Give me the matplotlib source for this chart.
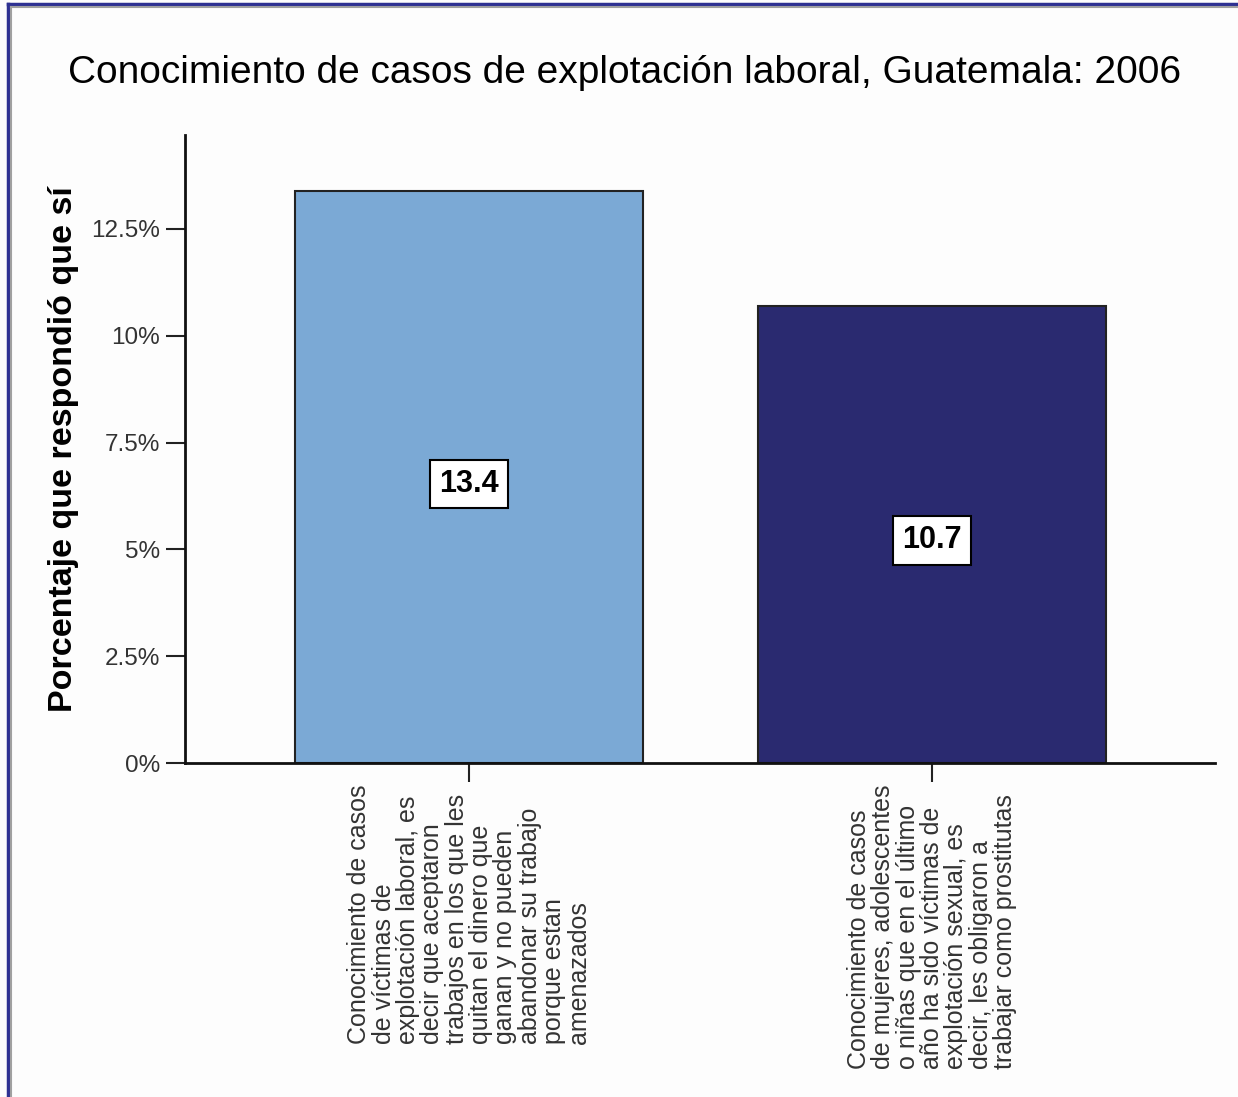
import numpy as np
import matplotlib
matplotlib.use("Agg")
import matplotlib.pyplot as plt
from matplotlib.lines import Line2D
from matplotlib.ticker import FuncFormatter

plt.rcParams["font.family"] = ["Liberation Sans", "DejaVu Sans"]

# data
categories = [
    "Conocimiento de casos\nde víctimas de\nexplotación laboral, es\ndecir que aceptaron\n"
    "trabajos en los que les\nquitan el dinero que\nganan y no pueden\n"
    "abandonar su trabajo\nporque estan\namenazados",
    "Conocimiento de casos\nde mujeres, adolescentes\no niñas que en el último\n"
    "año ha sido víctimas de\nexplotación sexual, es\ndecir, les obligaron a\n"
    "trabajar como prostitutas",
]
values = [13.4, 10.7]
bar_colors = ["#7BA9D5", "#2A2A70"]
y_ticks = [0, 2.5, 5, 7.5, 10, 12.5]

title = "Conocimiento de casos de explotación laboral, Guatemala: 2006"
y_label = "Porcentaje que respondió que sí"

W, H = 1238, 1097
fig = plt.figure(figsize=(W / 100, H / 100), dpi=100, facecolor="#FDFDFD")
ax = fig.add_axes([185 / W, 1 - 763 / H, (1215 - 185) / W, (763 - 135) / H])
ax.set_facecolor("#FDFDFD")

x = np.arange(len(values))
ax.bar(x, values, width=0.752, color=bar_colors, edgecolor="#222222", linewidth=1.5, zorder=2)

for xi, v in zip(x, values):
    ax.text(xi, v * 0.487, f"{v:.1f}", ha="center", va="center", fontsize=22,
            fontweight="bold", color="black", zorder=3,
            bbox=dict(boxstyle="square,pad=0.3", facecolor="white", edgecolor="black", linewidth=1.5))

ax.set_xlim(-0.613, 1.611)
ax.set_ylim(0, 14.7)
ax.set_yticks(y_ticks)
ax.yaxis.set_major_formatter(FuncFormatter(lambda v, p: f"{v:g}%"))
ax.set_xticks(x)
ax.set_xticklabels(categories, rotation=90, ha="center", va="top", multialignment="left",
                   fontsize=18, linespacing=1.02)
ax.tick_params(axis="y", length=14, width=1.5, labelsize=17.5, pad=4, colors="#222222")
ax.tick_params(axis="x", length=14, width=1.5, pad=1.5, colors="#222222")
for lbl in ax.get_yticklabels() + ax.get_xticklabels():
    lbl.set_color("#333333")

for side in ["top", "right"]:
    ax.spines[side].set_visible(False)
for side in ["left", "bottom"]:
    ax.spines[side].set_linewidth(2)
    ax.spines[side].set_color("#111111")

ax.set_ylabel(y_label, fontsize=24.5, fontweight="bold", labelpad=9)
fig.text(625 / W, 1 - 73 / H, title, ha="center", va="center", fontsize=28)

# window-like border on top and left
fig.add_artist(Line2D([8 / W, 1], [1 - 4 / H, 1 - 4 / H], transform=fig.transFigure,
                      color="#2E3192", linewidth=2.5))
fig.add_artist(Line2D([8 / W, 8 / W], [0, 1 - 4 / H], transform=fig.transFigure,
                      color="#2E3192", linewidth=2.5))
fig.add_artist(Line2D([10.5 / W, 1], [1 - 6.5 / H, 1 - 6.5 / H], transform=fig.transFigure,
                      color="#A0A0A0", linewidth=1.5))
fig.add_artist(Line2D([10.5 / W, 10.5 / W], [0, 1 - 6.5 / H], transform=fig.transFigure,
                      color="#A0A0A0", linewidth=1.5))

fig.savefig("out.png", dpi=100, facecolor=fig.get_facecolor())
